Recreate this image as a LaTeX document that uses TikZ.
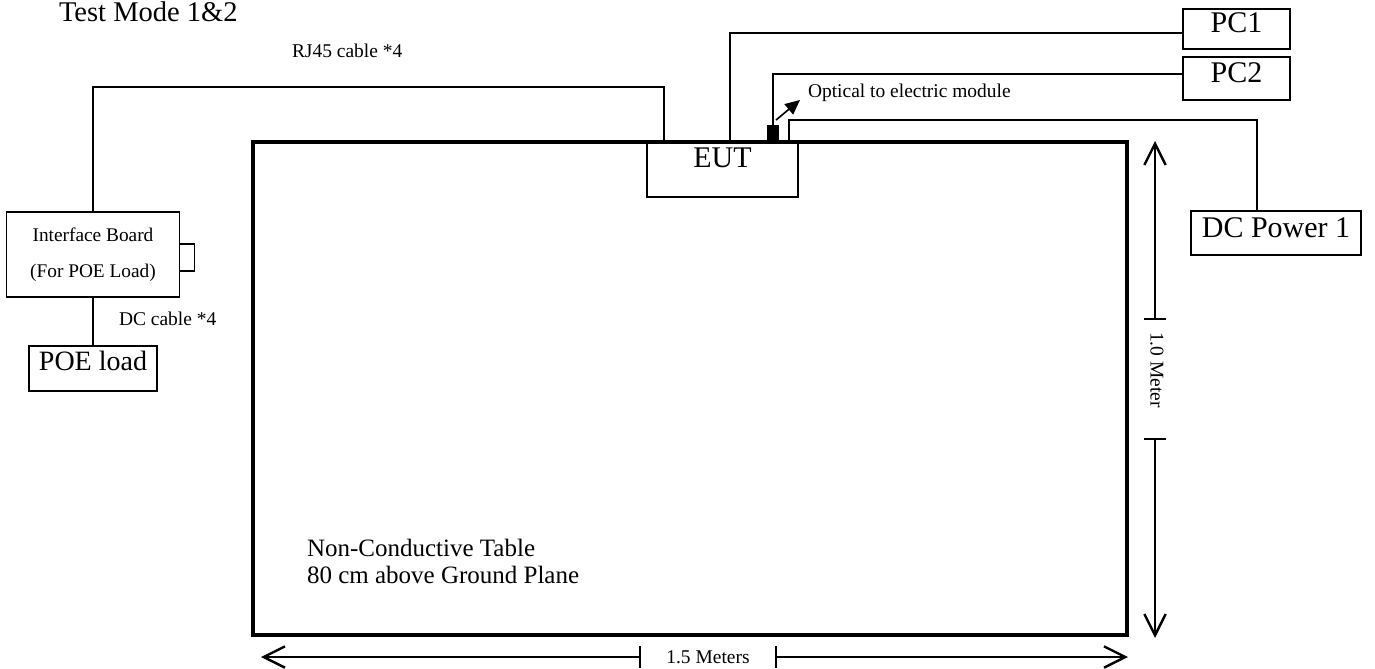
\documentclass[tikz,border=0pt]{standalone}
\usepackage{fontspec}
\setmainfont{Liberation Serif}
\usetikzlibrary{positioning,arrows.meta}

\begin{document}
\begin{tikzpicture}[x=0.75pt, y=-0.75pt, node distance=6pt and 0pt,
  >={Straight Barb[length=16pt,width=16pt,line width=1.8pt]},
  every node/.style={inner sep=0pt, outer sep=0pt}]
  \tikzstyle{box}=[draw, line width=1.2pt, align=center]
  \tikzstyle{bigbox}=[box, font=\fontsize{22.5}{24}\selectfont, text height=15pt]
  \tikzstyle{cable}=[line width=1.1pt]
  \tikzstyle{dimline}=[line width=1.1pt]
  \tikzstyle{lbl}=[font=\fontsize{14.6}{17}\selectfont]
  \useasboundingbox (0,0) rectangle (1375,668);
  % table and devices
  \node[draw, line width=2.6pt, minimum width=655.5pt, minimum height=369.75pt] (table) at (690,388.5) {};
  \node[anchor=north west, align=left, font=\fontsize{18.75}{20.25}\selectfont] (tabletxt) at (307,539) {Non-Conductive Table\\80 cm above Ground Plane};
  \node[bigbox, minimum width=113.25pt, text depth=18.75pt, inner ysep=3.75pt] (eut) at (722.5,169.5) {EUT};
  \node[bigbox, minimum width=80.25pt, text depth=10.5pt, inner ysep=2.25pt] (pc1) at (1236.5,29) {PC1};
  \node[bigbox, minimum width=80.25pt, text depth=9.75pt, inner ysep=3.75pt, below=6pt of pc1] (pc2) {PC2};
  \node[bigbox, minimum width=127.5pt, text depth=9pt, inner ysep=4.5pt] (dcpow) at (1276,233) {DC Power 1};
  \node[box, minimum width=129.75pt, minimum height=63.75pt, font=\fontsize{14.5}{27}\selectfont] (ifb) at (93,254.5) {Interface Board\\(For POE Load)};
  \node[box, minimum width=11.25pt, minimum height=20.25pt, right=0pt of ifb, yshift=-2.25pt] (plug) {};
  \node[box, font=\fontsize{21}{24}\selectfont, text height=14pt, text depth=10.85pt, inner ysep=4.5pt, minimum width=96pt, below=36.75pt of ifb] (poe) {POE load};
  \node[fill=black, minimum width=9pt, minimum height=12.75pt] (oem) at (773,133.5) {};
  % ports on the EUT
  \coordinate (rjport) at (664,142);
  \coordinate (pc1port) at (730,142);
  \coordinate (dcport) at (789,142);
  % cables
  \draw[cable] (rjport) -- ++(0,-55) -| (ifb.north);
  \draw[cable] (pc1port) |- ([yshift=-3pt]pc1.west);
  \draw[cable] (oem.north) |- ([yshift=3.4pt]pc2.west);
  \draw[cable] (dcport) -- ++(0,-22) -| ([xshift=-14.25pt]dcpow.north);
  \draw[cable] (ifb.south) -- (poe.north);
  % labels
  \node[anchor=base west, font=\fontsize{21.4}{24}\selectfont] (title) at (59,21) {Test Mode 1\&2};
  \node[lbl, anchor=base west] (rjlbl) at (292,57) {RJ45 cable *4};
  \node[lbl, anchor=base west] (dclbl) at (119,325) {DC cable *4};
  \node[lbl, anchor=base west] (oelbl) at (808,97) {Optical to electric module};
  \coordinate (oetail) at (776,120);
  \coordinate (oetip) at (800,100);
  \draw[line width=1.2pt, -{Triangle[length=11pt,width=10pt]}] (oetail) -- (oetip);
  % dimensions
  \coordinate (hleft) at (261,657);
  \coordinate (hright) at (1128,657);
  \coordinate (hta) at (640,657);
  \coordinate (htb) at (776,657);
  \node[lbl] (hlbl) at (708,657) {1.5 Meters};
  \draw[dimline, ->] (hta) -- (hleft);
  \draw[dimline, ->] (htb) -- (hright);
  \draw[dimline] ([yshift=8.25pt]hta) -- ([yshift=-8.25pt]hta);
  \draw[dimline] ([yshift=8.25pt]htb) -- ([yshift=-8.25pt]htb);
  \coordinate (vtop) at (1155,141);
  \coordinate (vbot) at (1155,638);
  \coordinate (vta) at (1155,319);
  \coordinate (vtb) at (1155,439);
  \node[lbl, rotate=-90] (vlbl) at (1157,370) {1.0 Meter};
  \draw[dimline, ->] (vta) -- (vtop);
  \draw[dimline, ->] (vtb) -- (vbot);
  \draw[dimline] ([xshift=-8.25pt]vta) -- ([xshift=8.25pt]vta);
  \draw[dimline] ([xshift=-8.25pt]vtb) -- ([xshift=8.25pt]vtb);
\end{tikzpicture}
\end{document}
